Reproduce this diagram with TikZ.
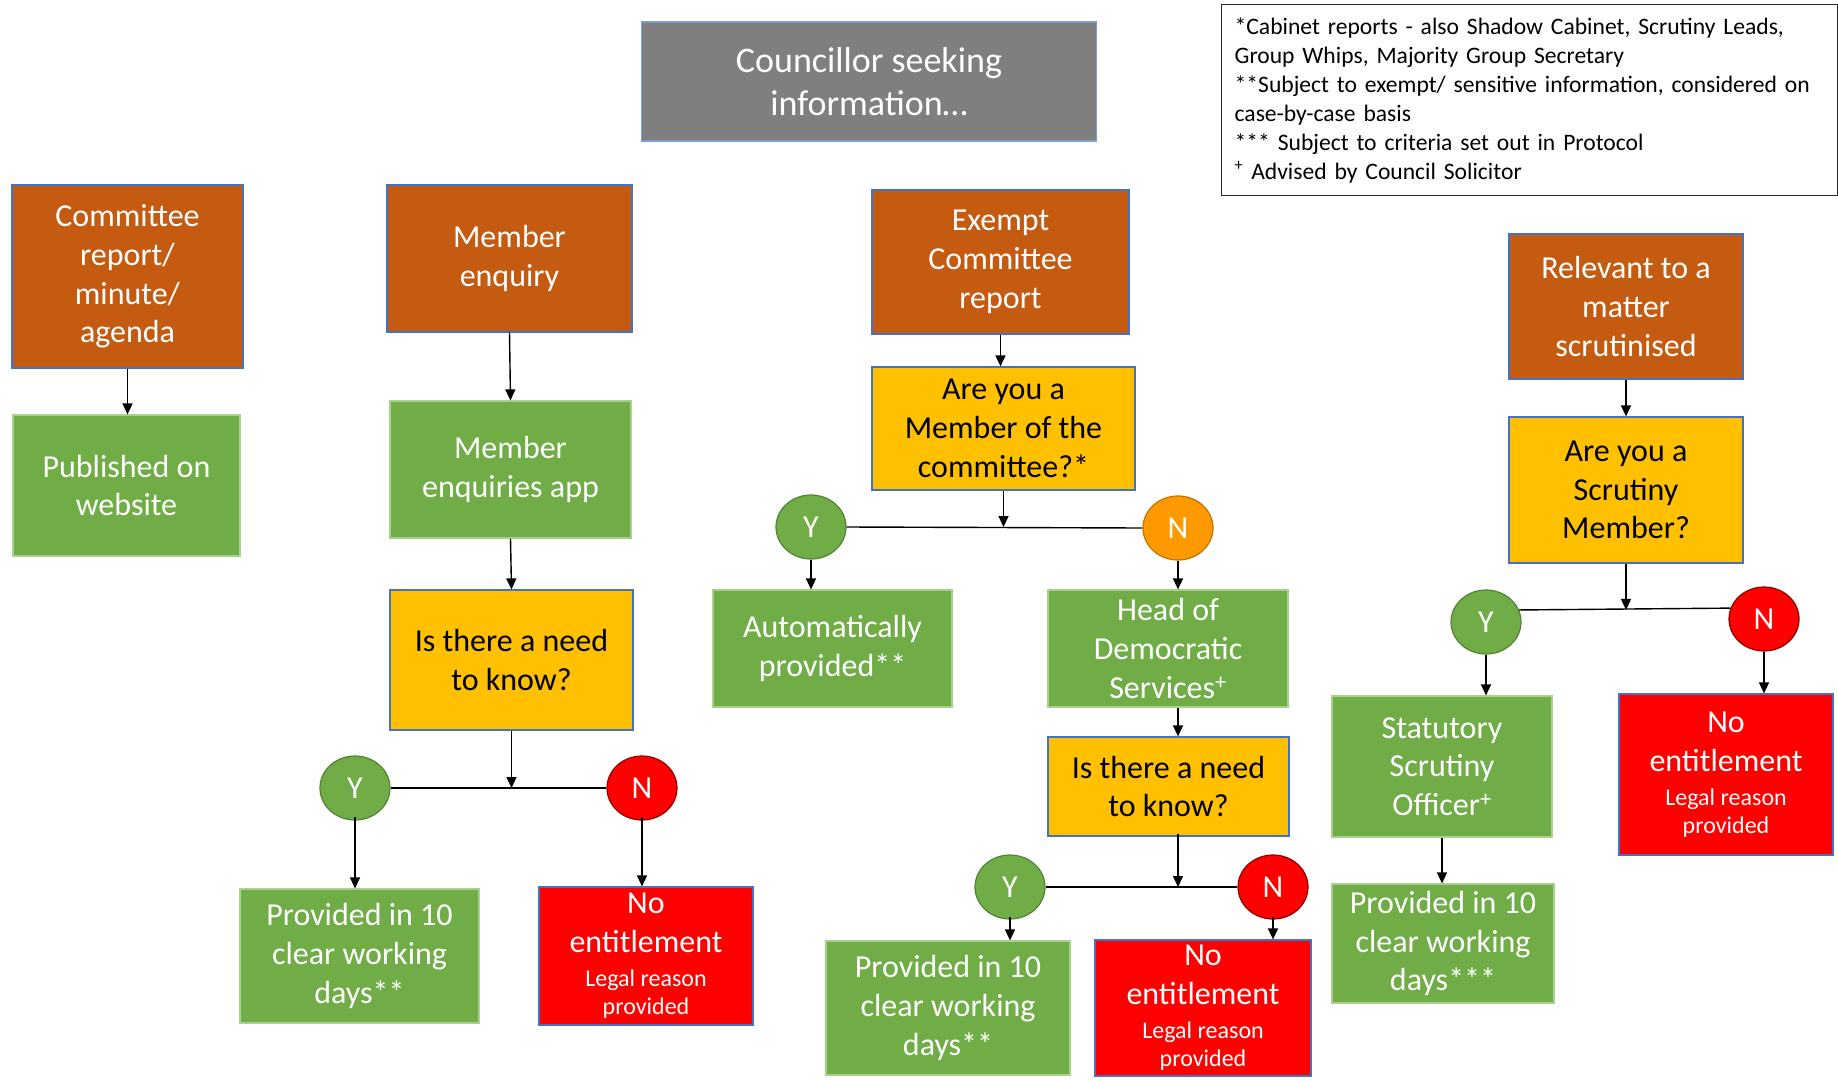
\documentclass[tikz,border=0pt]{standalone}
\usepackage{fontspec}
\setmainfont{Carlito}
\usetikzlibrary{shapes.geometric,arrows.meta}
\definecolor{orng}{HTML}{C55A11}
\definecolor{grn}{HTML}{70AD47}
\definecolor{grnb}{HTML}{A9D18E}
\definecolor{yel}{HTML}{FFC000}
\definecolor{bord}{HTML}{4472C4}
\definecolor{gry}{HTML}{7F7F7F}
\definecolor{rd}{HTML}{FF0000}
\definecolor{ornN}{HTML}{FF9900}
\newcommand\smalltxt{\fontsize{24}{28}\selectfont}
\newcommand\noentitle{No\\entitlement\\[-4.7pt]\smalltxt Legal reason\\[-10.7pt]\smalltxt provided}
\begin{document}
\begin{tikzpicture}[x=1pt,y=-1pt,
 box/.style={rectangle, draw, line width=1.2pt, align=center, inner sep=0pt, font=\fontsize{32}{38.7}\selectfont},
 obox/.style={box, fill=orng, draw=bord, text=white},
 gbox/.style={box, fill=grn, draw=grnb, text=white},
 ybox/.style={box, fill=yel, draw=bord, text=black},
 rbox/.style={box, fill=rd, draw=bord, text=white},
 yn/.style={ellipse, minimum width=70pt, minimum height=64pt, inner sep=0pt, line width=1.2pt, text=white, font=\fontsize{32}{38}\selectfont},
 ycirc/.style={yn, fill=grn, draw=grn!75!black},
 ncirc/.style={yn, fill=rd, draw=rd!55!black},
 ocirc/.style={yn, fill=ornN, draw=ornN!75!black},
 arr/.style={-{Triangle[length=11pt,width=10pt]}, line width=1.4pt},
 ln/.style={line width=1.4pt}
]
\fill[white] (0,0) rectangle (1838,1081);
\useasboundingbox (0,0) rectangle (1838,1081);

% title
\node[box, fill=gry, draw=bord!70!white, text=white, minimum width=455pt, minimum height=119pt, font=\fontsize{36}{43}\selectfont] (title) at (869,81.5) {Councillor seeking\\information…};

% legend
\node[draw=black!85, line width=1.3pt, anchor=north west, text width=590pt, inner xsep=13pt, inner ysep=0pt, minimum height=191pt, align=left, font=\fontsize{23.6}{29}\selectfont] (legend) at (1221,4) {*Cabinet reports - also Shadow Cabinet, Scrutiny Leads,\\Group Whips, Majority Group Secretary\\{}**Subject to exempt/ sensitive information, considered on\\case-by-case basis\\{}*** Subject to criteria set out in Protocol\\\textsuperscript{+} Advised by Council Solicitor};

% column 1
\node[obox, minimum width=231pt, minimum height=183pt] (cr) at (127.5,276.5) {Committee\\report/\\minute/\\agenda};
\node[gbox, minimum width=227pt, minimum height=141pt] (pub) at (126.5,485.5) {Published on\\website};
\draw[arr] (cr.south) -- (cr.south |- pub.north);

% column 2
\node[obox, minimum width=245pt, minimum height=147pt] (me) at (509.5,258.5) {Member\\enquiry};
\node[gbox, minimum width=241pt, minimum height=137pt] (app) at (510.5,469.5) {Member\\enquiries app};
\node[ybox, minimum width=243pt, minimum height=140pt] (need1) at (511.5,660) {Is there a need\\to know?};
\node[ycirc] (y1) at (355,788) {Y};
\node[ncirc] (n1) at (642,788) {N};
\node[gbox, minimum width=239pt, minimum height=134pt] (prov1) at (359.5,956) {Provided in 10\\clear working\\days**};
\node[rbox, minimum width=214pt, minimum height=138pt] (no1) at (646,956) {\noentitle};
\draw[arr] (me.south) -- (app.north);
\draw[arr] (app.south) -- (need1.north);
\draw[ln] (y1.east) -- (n1.west);
\draw[arr] (need1.south) -- (need1.south |- y1.east);
\draw[arr] ([yshift=4pt]y1.south) -- (y1.south |- prov1.north);
\draw[arr] ([yshift=4pt]n1.south) -- (n1.south |- no1.north);

% column 3
\node[obox, minimum width=257pt, minimum height=144pt] (ex) at (1000.5,262) {Exempt\\Committee\\report};
\node[ybox, minimum width=263pt, minimum height=123pt] (aym) at (1003.5,428.5) {Are you a\\Member of the\\committee?*};
\node[ycirc] (y2) at (811,527) {Y};
\node[ocirc] (n2) at (1178,528) {N};
\node[gbox, minimum width=239pt, minimum height=117pt] (auto) at (832.5,648.5) {Automatically\\provided**};
\node[gbox, minimum width=240pt, minimum height=117pt] (head) at (1168,648.5) {Head of\\Democratic\\Services\textsuperscript{+}};
\node[ybox, minimum width=241pt, minimum height=99pt] (need2) at (1168.5,786.5) {Is there a need\\to know?};
\node[ycirc] (y3) at (1010,887) {Y};
\node[ncirc] (n3) at (1273,887) {N};
\node[gbox, minimum width=244pt, minimum height=134pt] (prov2) at (948,1008) {Provided in 10\\clear working\\days**};
\node[rbox, minimum width=216pt, minimum height=136pt] (no2) at (1203,1008) {\noentitle};
\draw[arr] (ex.south) -- (ex.south |- aym.north);
\draw[ln] (y2.east) -- (n2.west);
\draw[arr] (aym.south) -- (aym.south |- y2.east);
\draw[arr] (y2.south) -- (y2.south |- auto.north);
\draw[arr] (n2.south) -- (n2.south |- head.north);
\draw[arr] (n2.south |- head.south) -- (n2.south |- need2.north);
\draw[arr] ([yshift=3pt]n2.south |- need2.south) -- (n2.south |- y3.east);
\draw[ln] (y3.east) -- (n3.west);
\draw[arr] ([yshift=3pt]y3.south) -- (y3.south |- prov2.north);
\draw[arr] ([yshift=3pt]n3.south) -- (n3.south |- no2.north);

% column 4
\node[obox, minimum width=234pt, minimum height=145pt] (rel) at (1626,306.5) {Relevant to a\\matter\\scrutinised};
\node[ybox, minimum width=234pt, minimum height=146pt] (scm) at (1626,490) {Are you a\\Scrutiny\\Member?};
\node[ycirc] (y4) at (1486,622) {Y};
\node[ncirc] (n4) at (1764,619) {N};
\node[gbox, minimum width=220pt, minimum height=141pt] (stat) at (1442,766.5) {Statutory\\Scrutiny\\Officer\textsuperscript{+}};
\node[gbox, minimum width=222pt, minimum height=119pt] (prov3) at (1443,943.5) {Provided in 10\\clear working\\days***};
\node[rbox, minimum width=214pt, minimum height=161pt] (no3) at (1726,774.5) {\noentitle};
\draw[arr] (rel.south) -- (scm.north);
\draw[ln] (y4.20) -- (n4.162);
\draw[arr] (scm.south) -- (scm.south |- y4.20);
\draw[arr] (y4.south) -- (y4.south |- stat.north);
\draw[arr] (n4.south) -- (n4.south |- no3.north);
\draw[arr] (stat.south) -- (stat.south |- prov3.north);
\end{tikzpicture}
\end{document}
